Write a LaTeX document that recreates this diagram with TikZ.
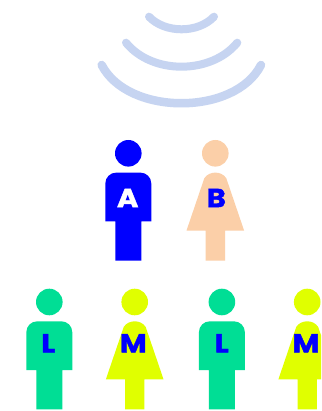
\documentclass[tikz,border=0pt]{standalone}
\usepackage{fontspec}
\newfontfamily\badgefont[FakeBold=1.6,FakeStretch=1.12]{Poppins Bold}
\definecolor{waveblue}{HTML}{C6D4F1}
\definecolor{peach}{HTML}{FBCFA8}
\definecolor{mint}{HTML}{00DE95}
\definecolor{lime}{HTML}{E0FF00}
\tikzset{
  wave/.style={draw=waveblue,line cap=round,fill=none},
  badge/.style={text=#1,inner sep=0pt,font=\badgefont\fontsize{26}{26}\selectfont},
  man/.pic={
    \path[pic actions] (0,0) circle[radius=13.3];
    \path[pic actions] (-23,68) -- (-23,30.3)
       .. controls (-23,24) and (-18,19.3) .. (-12,19.3) -- (12,19.3)
       .. controls (18,19.3) and (23,24) .. (23,30.3) -- (23,68)
       -- (13,68) -- (13,107.3) -- (-13,107.3) -- (-13,68) -- cycle;
  },
  woman/.pic={
    \path[pic actions] (0,0) circle[radius=13.3];
    \path[pic actions] (-9.7,107.3) -- (-9.7,77.3) -- (-28.8,77.3) -- (-11,25)
       .. controls (-8.5,21) and (-4,19.3) .. (0,19.3)
       .. controls (4,19.3) and (8.5,21) .. (11,25)
       -- (28.8,77.3) -- (9.7,77.3) -- (9.7,107.3) -- cycle;
  },
}
\begin{document}
\begin{tikzpicture}[x=1pt,y=-1pt]
\useasboundingbox (0,0) rectangle (321,411);
\clip (0,0) rectangle (321,411);
\fill[white] (0,0) rectangle (321,411);
% signal waves
\draw[wave,line width=8.5pt] (101.7,65) .. controls (128,116) and (235,116) .. (261,65);
\draw[wave,line width=8pt] (126,42.7) .. controls (152,74.7) and (211,74.7) .. (237.3,42.7);
\draw[wave,line width=8pt] (149,16.7) .. controls (165,33.5) and (198,33.5) .. (214,16.7);
% figures
\pic[fill=blue] at (128.3,153.3) {man};
\pic[fill=peach] at (215.3,153.3) {woman};
\pic[fill=mint] at (49.3,302) {man};
\pic[fill=lime] at (134.7,302) {woman};
\pic[fill=mint] at (221.9,302) {man};
\pic[fill=lime] at (307.2,302) {woman};
% letters
\node[badge=white] (a) at (127.7,198) {A};
\node[badge=blue] (b) at (216.3,198) {B};
\node[badge=blue] (l1) at (48.3,343.3) {L};
\node[badge=blue] (m1) at (133.3,343.3) {M};
\node[badge=blue] (l2) at (221.7,343.3) {L};
\node[badge=blue] (m2) at (306,343.3) {M};
\end{tikzpicture}
\end{document}
